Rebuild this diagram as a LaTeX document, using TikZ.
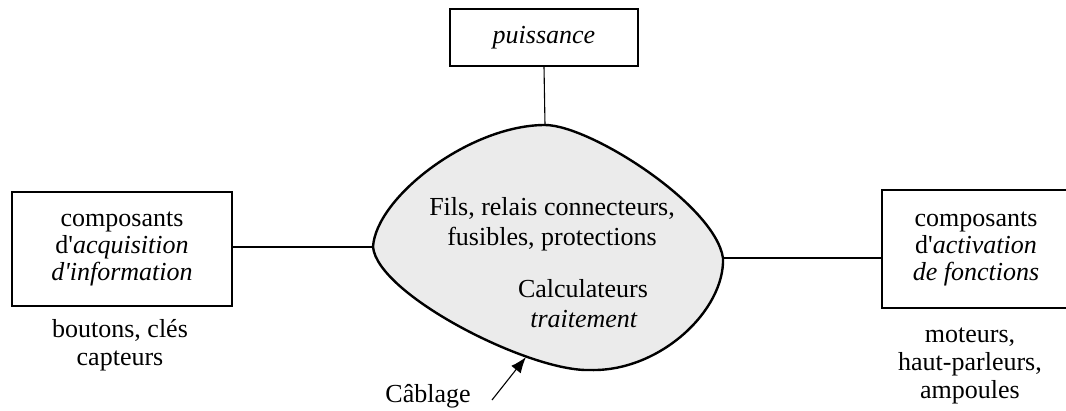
\documentclass[tikz,border=0pt]{standalone}
\usepackage{fontspec}
\setmainfont{Liberation Serif}
\usetikzlibrary{arrows.meta}
\definecolor{blobgray}{HTML}{EBEBEB}
\begin{document}
\begin{tikzpicture}[x=1pt,y=-1pt,
  box/.style={draw, line width=1.1pt, inner sep=0pt, align=center, font=\fontsize{26}{27}\selectfont},
  txt/.style={inner sep=0pt, anchor=base, font=\fontsize{26}{27}\selectfont},
  link/.style={line width=1.1pt},
  blob/.style={line width=2.4pt, fill=blobgray, line join=round},
  ]
\useasboundingbox (0,0) rectangle (1066,410);
% boxes
\node[box, minimum width=188pt, minimum height=57pt] (pui) at (544,37.5) {\textit{puissance}};
\node[box, minimum width=220pt, minimum height=114pt] (acq) at (122,249) {composants\\d\textquotesingle\textit{acquisition}\\\textit{d\textquotesingle information}};
\node[box, minimum width=188pt, minimum height=118pt] (act) at (976,249) {composants\\d\textquotesingle\textit{activation}\\\textit{de fonctions}};
% blob
\coordinate (bL) at (373,247);
\coordinate (bT) at (545,125);
\coordinate (bR) at (723,258);
\coordinate (bB) at (590,370);
\draw[blob] (bL) .. controls (376,197) and (470,125) .. (bT)
  .. controls (590,125) and (715,205) .. (bR)
  .. controls (725,310) and (660,372) .. (bB)
  .. controls (530,372) and (378,295) .. cycle;
\coordinate (bA) at (526,357);
\coordinate (cabStart) at (492,400);
% blob text
\node[txt] (f1) at (552,215) {Fils, relais connecteurs,};
\node[txt] (f2) at (552,245) {fusibles, protections};
\node[txt] (c1) at (583,297) {Calculateurs};
\node[txt] (c2) at (584,327) {\textit{traitement}};
% under texts
\node[txt] (b1) at (120,337) {boutons, clés};
\node[txt] (b2) at (120,365) {capteurs};
\node[txt] (m1) at (970,342) {moteurs,};
\node[txt] (m2) at (970,370) {haut-parleurs,};
\node[txt] (m3) at (970,398) {ampoules};
\node[txt] (cab) at (428,402) {Câblage};
% connectors
\draw[link] (pui.south) -- (bT);
\draw[link] (acq.east |- bL) -- (bL);
\draw[link] (bR) -- (act.west |- bR);
\draw[line width=1.1pt, -{Latex[length=16pt,width=12pt]}] (cabStart) -- (bA);
\end{tikzpicture}
\end{document}
